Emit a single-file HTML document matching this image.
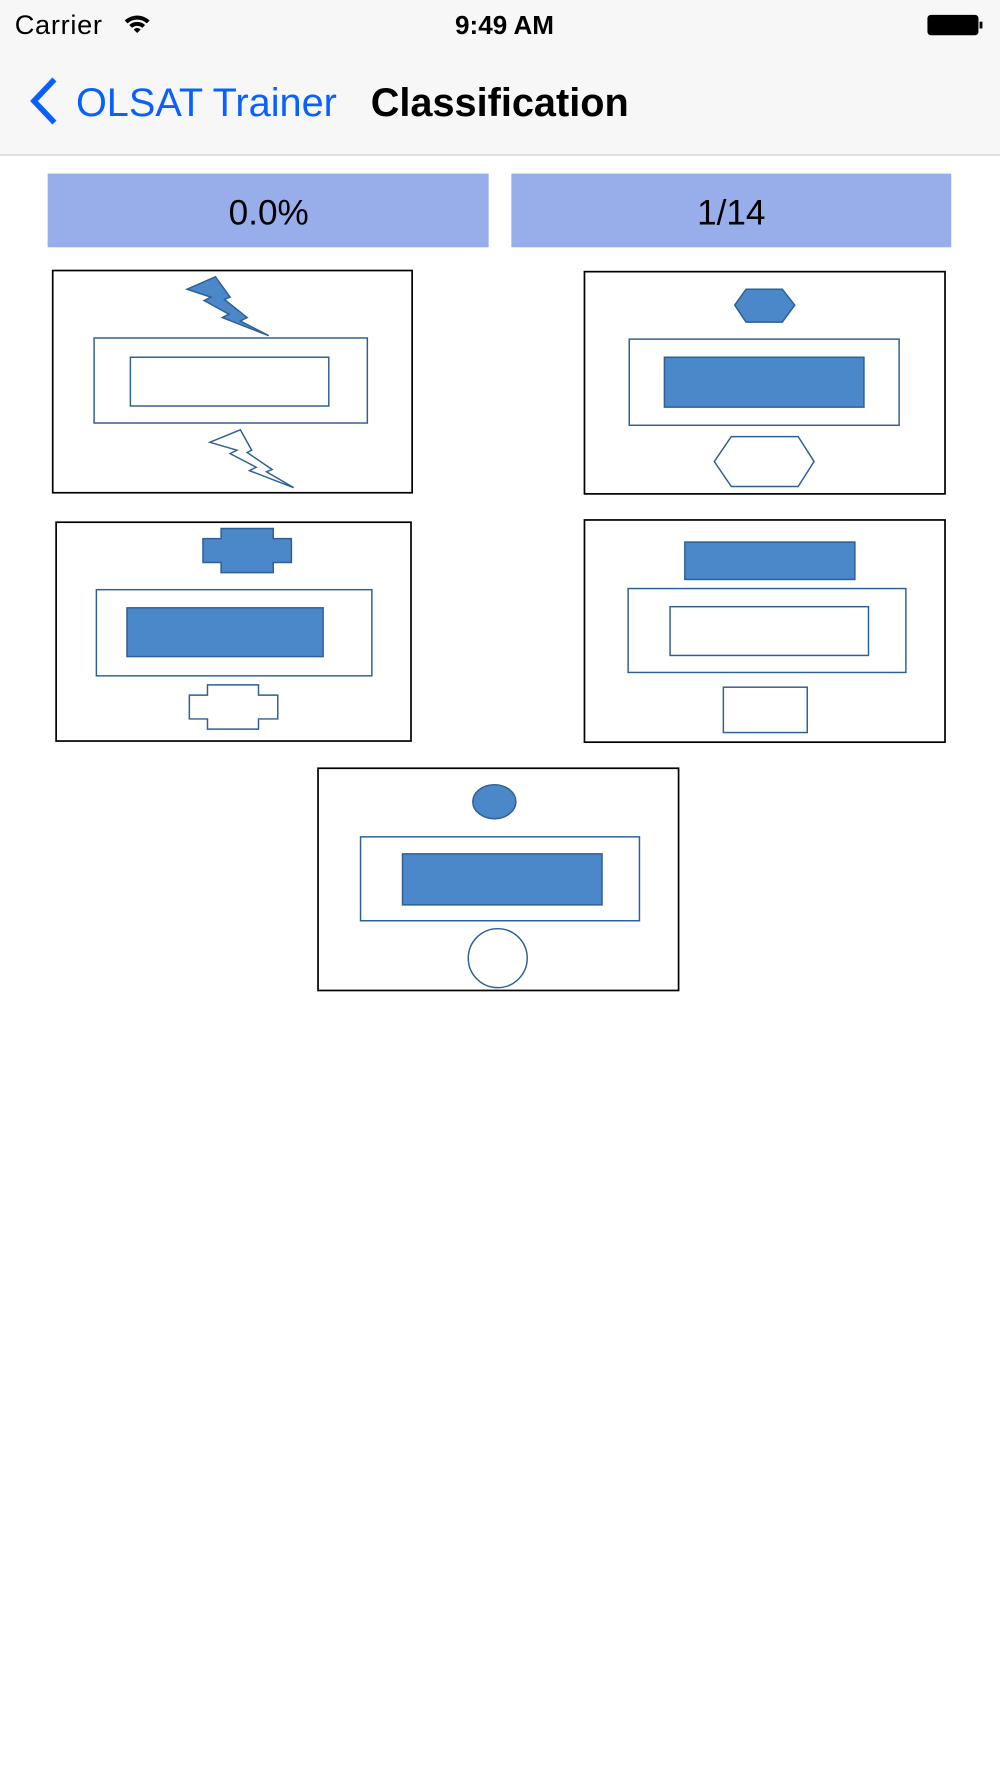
<!DOCTYPE html>
<html><head><meta charset="utf-8"><style>
html,body{margin:0;padding:0;background:#fff;width:1000px;height:1778px;overflow:hidden}
svg{display:block}
text{font-family:"Liberation Sans",sans-serif}
</style></head><body>
<svg width="1000" height="1778" viewBox="0 0 882 1568" xmlns="http://www.w3.org/2000/svg">
<rect x="0" y="0" width="882" height="136" fill="#f7f7f7"/>
<rect x="0" y="136" width="882" height="1.2" fill="#d0d0d0"/>
<text x="13" y="30" font-size="24" letter-spacing="0.6" fill="#000">Carrier</text>
<g fill="#000"><path d="M110 18 a16 16 0 0 1 22 0 l-2.5 2.5 a12.5 12.5 0 0 0 -17 0z"/><path d="M114 22 a10 10 0 0 1 14 0 l-2.5 2.5 a6.5 6.5 0 0 0 -9 0z"/><path d="M118 26 a4 4 0 0 1 6 0 l-3 3z"/></g>
<text x="445" y="30" font-size="23" font-weight="bold" text-anchor="middle" fill="#000">9:49 AM</text>
<rect x="818" y="13" width="45" height="18" rx="3" fill="#000"/>
<rect x="864" y="19" width="2.5" height="6" fill="#000"/>
<path d="M48 70 L30 89 L48 108" stroke="#0a60fe" stroke-width="5" fill="none"/>
<text x="67" y="102" font-size="35" fill="#0a60fe">OLSAT Trainer</text>
<text x="327" y="102" font-size="35" font-weight="bold" fill="#000">Classification</text>
<rect x="42" y="153" width="389" height="65" fill="#97aeeb"/>
<rect x="451" y="153" width="388" height="65" fill="#97aeeb"/>
<text x="237" y="198" font-size="31" text-anchor="middle" fill="#000">0.0%</text>
<text x="645" y="198" font-size="31" text-anchor="middle" fill="#000">1/14</text>
<g fill="none" stroke="#000" stroke-width="1.5">
<rect x="46.5" y="238.5" width="317" height="196"/>
<rect x="515.5" y="239.5" width="318" height="196"/>
<rect x="49.5" y="460.5" width="313" height="193"/>
<rect x="515.5" y="458.5" width="318" height="196"/>
<rect x="280.5" y="677.5" width="318" height="196"/>
</g>
<g stroke="#2f5f95" stroke-width="1.3">
<rect x="83" y="298" width="241" height="75" fill="#fff"/>
<rect x="115" y="315" width="175" height="43" fill="#fff"/>
<polygon fill="#4a88c9" points="165,255 190,244 203,262 198,264 218,280 212,283 237,296 196,280 202,277 180,265 186,262"/>
<polygon fill="#fff" points="185,390 212,379 222,397 218,399 240,414 235,416 259,430 220,415 226,412 203,400 209,397"/>
<polygon fill="#4a88c9" points="648,269 658,255 690,255 701,269 690,284 658,284"/>
<rect x="555" y="299" width="238" height="76" fill="#fff"/>
<rect x="586" y="315" width="176" height="44" fill="#4a88c9"/>
<polygon fill="#fff" points="630,407 645,385 704,385 718,407 704,429 645,429"/>
<polygon fill="#4a88c9" points="195,466 241,466 241,475 257,475 257,496 241,496 241,505 195,505 195,496 179,496 179,475 195,475"/>
<rect x="85" y="520" width="243" height="76" fill="#fff"/>
<rect x="112" y="536" width="173" height="43" fill="#4a88c9"/>
<polygon fill="#fff" points="183,604 228,604 228,613 245,613 245,634 228,634 228,643 183,643 183,634 167,634 167,613 183,613"/>
<rect x="604" y="478" width="150" height="33" fill="#4a88c9"/>
<rect x="554" y="519" width="245" height="74" fill="#fff"/>
<rect x="591" y="535" width="175" height="43" fill="#fff"/>
<rect x="638" y="606" width="74" height="40" fill="#fff"/>
<ellipse cx="436" cy="707" rx="19" ry="15" fill="#4a88c9"/>
<rect x="318" y="738" width="246" height="74" fill="#fff"/>
<rect x="355" y="753" width="176" height="45" fill="#4a88c9"/>
<circle cx="439" cy="845" r="26" fill="#fff"/>
</g>
</svg>
</body></html>
